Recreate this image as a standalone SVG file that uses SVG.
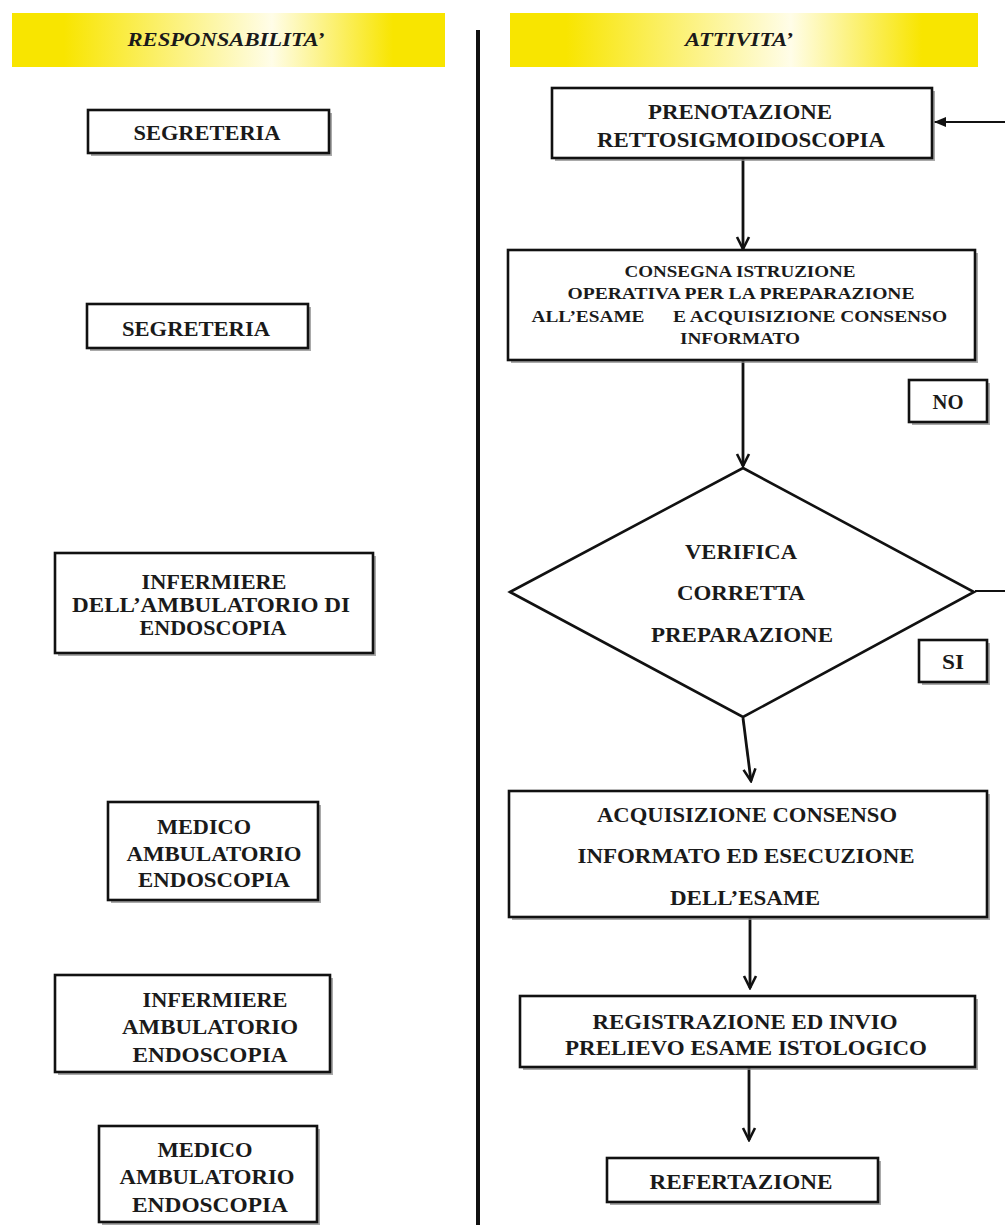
<svg xmlns="http://www.w3.org/2000/svg" width="1005" height="1225" viewBox="0 0 1005 1225">
<defs>
<linearGradient id="hdr" x1="0" y1="0" x2="1" y2="0">
<stop offset="0" stop-color="#f8e500"/>
<stop offset="0.12" stop-color="#f8e500"/>
<stop offset="0.6" stop-color="#fffde8"/>
<stop offset="0.88" stop-color="#f8e500"/>
<stop offset="1" stop-color="#f8e500"/>
</linearGradient>
<marker id="arr" markerUnits="userSpaceOnUse" markerWidth="16" markerHeight="16" viewBox="0 0 16 16" refX="14" refY="8" orient="auto">
<path d="M2,2 L14,8 L2,14" fill="none" stroke="#111" stroke-width="2.6"/>
</marker>
<marker id="arrf" markerUnits="userSpaceOnUse" markerWidth="14" markerHeight="12" viewBox="0 0 14 12" refX="13" refY="6" orient="auto">
<path d="M1,1 L13,6 L1,11 Z" fill="#111"/>
</marker>
</defs>
<style>
.box{fill:#fff;stroke:#111;stroke-width:2.6}
.sh{fill:#8c8c8c;opacity:0.75}
.t{font-family:"Liberation Serif","Times New Roman",serif;font-weight:bold;fill:#1a1a1a;text-anchor:middle}
.h{font-family:"Liberation Serif","Times New Roman",serif;font-weight:bold;font-style:italic;fill:#1a1a1a;text-anchor:middle;font-size:18px}
.c{fill:none;stroke:#111;stroke-width:2.8}
</style>
<rect width="1005" height="1225" fill="#fff"/>

<g id="header-responsabilita">
<rect x="12" y="13" width="433" height="54" fill="url(#hdr)"/>
<text class="h" x="226" y="46" textLength="197" lengthAdjust="spacingAndGlyphs">RESPONSABILITA’</text>
</g>
<g id="header-attivita">
<rect x="510" y="13" width="468" height="54" fill="url(#hdr)"/>
<text class="h" x="739" y="46" textLength="108" lengthAdjust="spacingAndGlyphs">ATTIVITA’</text>
</g>
<g id="divider">
<line x1="478" y1="30" x2="478" y2="1225" stroke="#111" stroke-width="4"/>
</g>

<g id="connectors">
<line class="c" x1="743" y1="158" x2="743" y2="249" marker-end="url(#arr)"/>
<line class="c" x1="743" y1="360" x2="743" y2="466" marker-end="url(#arr)"/>
<line class="c" x1="743" y1="718" x2="751" y2="781" marker-end="url(#arr)"/>
<line class="c" x1="750" y1="918" x2="750" y2="988" marker-end="url(#arr)"/>
<line class="c" x1="749" y1="1068" x2="749" y2="1140" marker-end="url(#arr)"/>
<path d="M975,591 H1012 V122 H934" fill="none" stroke="#111" stroke-width="2" marker-end="url(#arrf)"/>
</g>

<g id="r-segreteria-1">
<rect class="sh" x="91" y="113" width="241" height="43"/>
<rect class="box" x="88" y="110" width="241" height="43"/>
<text class="t" x="207" y="140" font-size="21" textLength="147" lengthAdjust="spacingAndGlyphs">SEGRETERIA</text>
</g>
<g id="r-segreteria-2">
<rect class="sh" x="90" y="307" width="221" height="44"/>
<rect class="box" x="87" y="304" width="221" height="44"/>
<text class="t" x="196" y="336" font-size="21" textLength="148" lengthAdjust="spacingAndGlyphs">SEGRETERIA</text>
</g>
<g id="r-infermiere-1">
<rect class="sh" x="58" y="556" width="318" height="100"/>
<rect class="box" x="55" y="553" width="318" height="100"/>
<text class="t" x="214" y="589" font-size="20" textLength="145" lengthAdjust="spacingAndGlyphs">INFERMIERE</text>
<text class="t" x="211" y="612" font-size="20" textLength="278" lengthAdjust="spacingAndGlyphs">DELL’AMBULATORIO DI</text>
<text class="t" x="213" y="635" font-size="20" textLength="147" lengthAdjust="spacingAndGlyphs">ENDOSCOPIA</text>
</g>
<g id="r-medico-1">
<rect class="sh" x="111" y="805" width="210" height="98"/>
<rect class="box" x="108" y="802" width="210" height="98"/>
<text class="t" x="204" y="834" font-size="21" textLength="94" lengthAdjust="spacingAndGlyphs">MEDICO</text>
<text class="t" x="214" y="861" font-size="21" textLength="175" lengthAdjust="spacingAndGlyphs">AMBULATORIO</text>
<text class="t" x="214" y="887" font-size="21" textLength="152" lengthAdjust="spacingAndGlyphs">ENDOSCOPIA</text>
</g>
<g id="r-infermiere-2">
<rect class="sh" x="58" y="978" width="275" height="97"/>
<rect class="box" x="55" y="975" width="275" height="97"/>
<text class="t" x="215" y="1007" font-size="21" textLength="145" lengthAdjust="spacingAndGlyphs">INFERMIERE</text>
<text class="t" x="210" y="1034" font-size="21" textLength="176" lengthAdjust="spacingAndGlyphs">AMBULATORIO</text>
<text class="t" x="210" y="1062" font-size="21" textLength="155" lengthAdjust="spacingAndGlyphs">ENDOSCOPIA</text>
</g>
<g id="r-medico-2">
<rect class="sh" x="102" y="1129" width="218" height="96"/>
<rect class="box" x="99" y="1126" width="218" height="96"/>
<text class="t" x="205" y="1157" font-size="21" textLength="95" lengthAdjust="spacingAndGlyphs">MEDICO</text>
<text class="t" x="207" y="1184" font-size="21" textLength="175" lengthAdjust="spacingAndGlyphs">AMBULATORIO</text>
<text class="t" x="210" y="1212" font-size="21" textLength="156" lengthAdjust="spacingAndGlyphs">ENDOSCOPIA</text>
</g>

<g id="a-prenotazione">
<rect class="sh" x="555" y="91" width="380" height="70"/>
<rect class="box" x="552" y="88" width="380" height="70"/>
<text class="t" x="740" y="119" font-size="21" textLength="184" lengthAdjust="spacingAndGlyphs">PRENOTAZIONE</text>
<text class="t" x="741" y="147" font-size="21" textLength="288" lengthAdjust="spacingAndGlyphs">RETTOSIGMOIDOSCOPIA</text>
</g>
<g id="a-consegna">
<rect class="sh" x="511" y="253" width="467" height="110"/>
<rect class="box" x="508" y="250" width="467" height="110"/>
<text class="t" x="740" y="277" font-size="16" textLength="231" lengthAdjust="spacingAndGlyphs">CONSEGNA ISTRUZIONE</text>
<text class="t" x="741" y="299" font-size="16" textLength="347" lengthAdjust="spacingAndGlyphs">OPERATIVA PER LA PREPARAZIONE</text>
<text class="t" x="588" y="322" font-size="16" textLength="113" lengthAdjust="spacingAndGlyphs">ALL’ESAME</text>
<text class="t" x="810" y="322" font-size="16" textLength="274" lengthAdjust="spacingAndGlyphs">E ACQUISIZIONE CONSENSO</text>
<text class="t" x="740" y="344" font-size="16" textLength="120" lengthAdjust="spacingAndGlyphs">INFORMATO</text>
</g>
<g id="l-no">
<rect class="sh" x="912" y="383" width="78" height="42"/>
<rect class="box" x="909" y="380" width="78" height="42"/>
<text class="t" x="948" y="409" font-size="20" textLength="31" lengthAdjust="spacingAndGlyphs">NO</text>
</g>
<g id="a-verifica">
<polygon points="743,468 974,592 743,717 510,592" fill="#fff" stroke="#111" stroke-width="2.6"/>
<text class="t" x="741" y="559" font-size="21" textLength="112" lengthAdjust="spacingAndGlyphs">VERIFICA</text>
<text class="t" x="741" y="600" font-size="21" textLength="128" lengthAdjust="spacingAndGlyphs">CORRETTA</text>
<text class="t" x="742" y="642" font-size="21" textLength="182" lengthAdjust="spacingAndGlyphs">PREPARAZIONE</text>
</g>
<g id="l-si">
<rect class="sh" x="922" y="643" width="68" height="42"/>
<rect class="box" x="919" y="640" width="68" height="42"/>
<text class="t" x="953" y="669" font-size="20" textLength="22" lengthAdjust="spacingAndGlyphs">SI</text>
</g>
<g id="a-acquisizione">
<rect class="sh" x="512" y="794" width="478" height="126"/>
<rect class="box" x="509" y="791" width="478" height="126"/>
<text class="t" x="747" y="822" font-size="21" textLength="300" lengthAdjust="spacingAndGlyphs">ACQUISIZIONE CONSENSO</text>
<text class="t" x="746" y="863" font-size="21" textLength="337" lengthAdjust="spacingAndGlyphs">INFORMATO ED ESECUZIONE</text>
<text class="t" x="745" y="905" font-size="21" textLength="150" lengthAdjust="spacingAndGlyphs">DELL’ESAME</text>
</g>
<g id="a-registrazione">
<rect class="sh" x="523" y="999" width="455" height="71"/>
<rect class="box" x="520" y="996" width="455" height="71"/>
<text class="t" x="745" y="1029" font-size="20" textLength="305" lengthAdjust="spacingAndGlyphs">REGISTRAZIONE ED INVIO</text>
<text class="t" x="746" y="1055" font-size="20" textLength="362" lengthAdjust="spacingAndGlyphs">PRELIEVO ESAME ISTOLOGICO</text>
</g>
<g id="a-refertazione">
<rect class="sh" x="610" y="1161" width="271" height="44"/>
<rect class="box" x="607" y="1158" width="271" height="44"/>
<text class="t" x="741" y="1189" font-size="21" textLength="183" lengthAdjust="spacingAndGlyphs">REFERTAZIONE</text>
</g>
</svg>
